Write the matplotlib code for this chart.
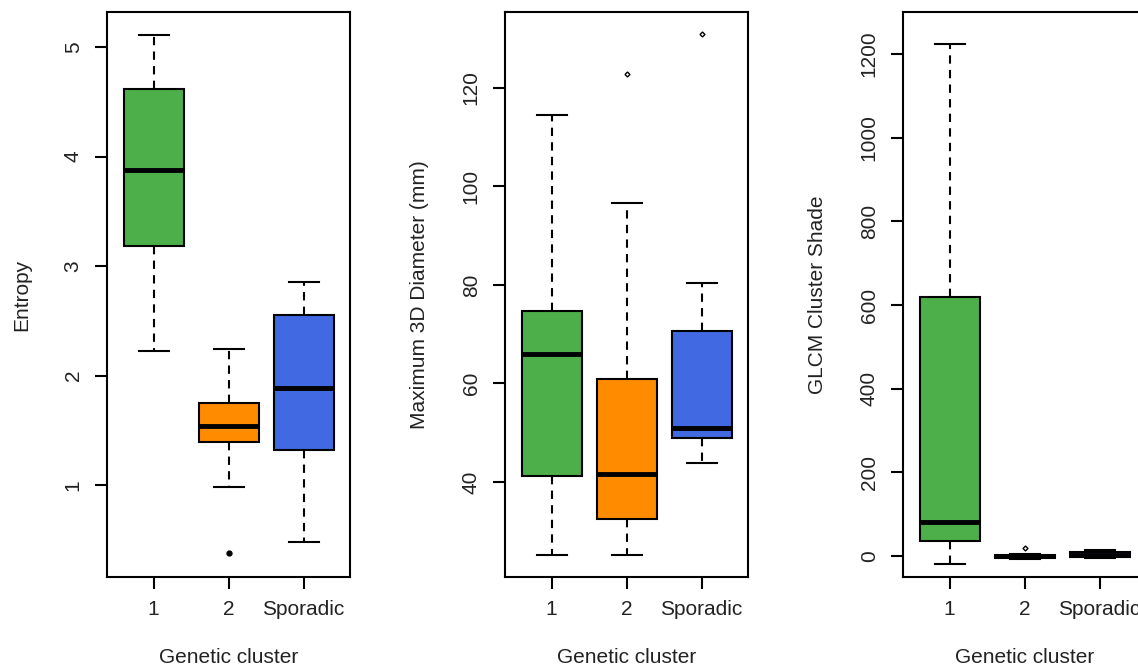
import matplotlib
matplotlib.use('Agg')
import matplotlib.pyplot as plt

plt.rcParams['font.family'] = ['Liberation Sans', 'DejaVu Sans']

# ─── Data ─────────────────────────────────────────────────────────────────────
groups = ['1', '2', 'Sporadic']
colors = ['#4DAF4A', '#FF8C00', '#4169E1']

# Entropy
ent_whislo = [2.22, 0.98, 0.48]
ent_q1     = [3.18, 1.39, 1.32]
ent_med    = [3.88, 1.54, 1.89]
ent_q3     = [4.62, 1.75, 2.55]
ent_whishi = [5.11, 2.24, 2.85]
ent_fliers = [[], [0.38], []]

# Maximum 3D diameter (mm)
dia_whislo = [25.2, 25.2, 43.9]
dia_q1     = [41.2, 32.5, 49.0]
dia_med    = [66.0, 41.6, 51.0]
dia_q3     = [74.7, 60.9, 70.7]
dia_whishi = [114.5, 96.6, 80.4]
dia_fliers = [[], [122.8], [131.0]]

# GLCM cluster shade
cs_whislo = [-19, -6, -4]
cs_q1     = [36, -4, -2]
cs_med    = [81, 0, 3]
cs_q3     = [619, 3, 9]
cs_whishi = [1223, 6, 14]
cs_fliers = [[], [19], []]

TXT = '#222222'
FS = 15


def make_stats(lo, q1, med, q3, hi, fl):
    return [dict(whislo=a, q1=b, med=c, q3=d, whishi=e, fliers=f)
            for a, b, c, d, e, f in zip(lo, q1, med, q3, hi, fl)]


def draw_panel(ax, stats, ylabel, yticks, ylim, flier_marker):
    bp = ax.bxp(stats, positions=[1, 2, 3], widths=0.8, patch_artist=True,
                showfliers=True,
                boxprops=dict(linewidth=1.5, edgecolor='black'),
                medianprops=dict(color='black', linewidth=3.5),
                whiskerprops=dict(color='black', linewidth=1.5,
                                  linestyle=(0, (4, 3))),
                capprops=dict(color='black', linewidth=1.5),
                capwidths=0.4,
                flierprops=flier_marker)
    for patch, c in zip(bp['boxes'], colors):
        patch.set_facecolor(c)
    ax.set_xlim(0.38, 3.62)
    ax.set_ylim(*ylim)
    ax.set_xticks([1, 2, 3])
    ax.set_xticklabels(groups, fontsize=FS, color=TXT)
    ax.set_yticks(yticks)
    ax.set_yticklabels([str(t) for t in yticks], rotation=90, va='center',
                       fontsize=FS, color=TXT)
    ax.tick_params(length=8.5, width=1.5)
    ax.tick_params(axis='x', pad=8)
    ax.tick_params(axis='y', pad=9)
    ax.set_ylabel(ylabel, fontsize=FS, color=TXT, va='center')
    ax.yaxis.set_label_coords(-0.35, 0.5)
    ax.set_xlabel('Genetic cluster', fontsize=FS, color=TXT, va='center')
    ax.xaxis.set_label_coords(0.5, -0.143)
    for sp in ax.spines.values():
        sp.set_linewidth(1.5)


fig = plt.figure(figsize=(11.38, 6.72), dpi=100, facecolor='white')
W, H = 1138, 672

def px_axes(left, right, top=12, bottom=577):
    return fig.add_axes([left / W, 1 - bottom / H, (right - left) / W,
                         (bottom - top) / H])

ax1 = px_axes(107, 350)
draw_panel(ax1, make_stats(ent_whislo, ent_q1, ent_med, ent_q3, ent_whishi, ent_fliers),
           'Entropy', [1, 2, 3, 4, 5], (0.16, 5.32),
           dict(marker='o', markersize=3.5, markerfacecolor='black',
                markeredgecolor='black'))

ax2 = px_axes(505, 748)
draw_panel(ax2, make_stats(dia_whislo, dia_q1, dia_med, dia_q3, dia_whishi, dia_fliers),
           'Maximum 3D Diameter (mm)', [40, 60, 80, 100, 120], (20.7, 135.4),
           dict(marker='D', markersize=2.5, markerfacecolor='white',
                markeredgecolor='black', markeredgewidth=1))

ax3 = px_axes(903, 1146)
draw_panel(ax3, make_stats(cs_whislo, cs_q1, cs_med, cs_q3, cs_whishi, cs_fliers),
           'GLCM Cluster Shade', [0, 200, 400, 600, 800, 1000, 1200], (-50, 1300),
           dict(marker='D', markersize=2.5, markerfacecolor='white',
                markeredgecolor='black', markeredgewidth=1))

fig.savefig('out.png', dpi=100, facecolor='white')
